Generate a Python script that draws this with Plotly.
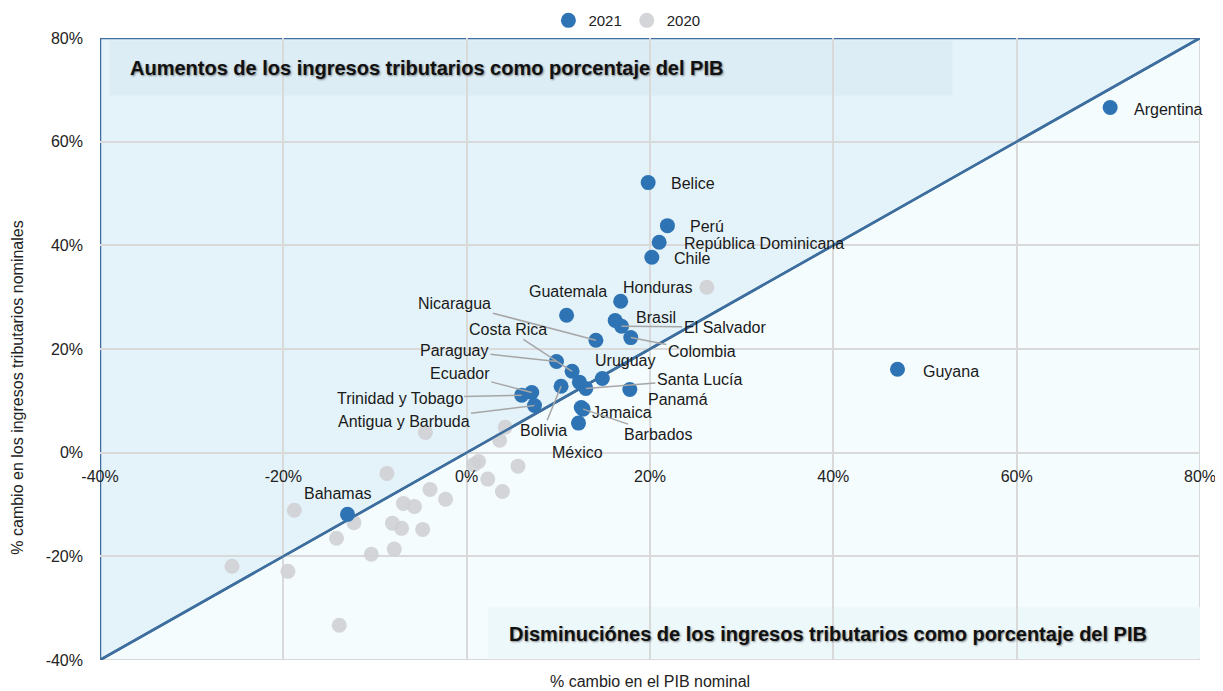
import plotly.graph_objects as go

# ---------------- data ----------------
countries_2021 = ["Argentina", "Belice", "Perú", "República Dominicana", "Chile", "Honduras",
                  "Guatemala", "Brasil", "El Salvador", "Colombia", "Nicaragua", "Paraguay",
                  "Costa Rica", "Uruguay", "", "Santa Lucía", "Bolivia", "Panamá", "Ecuador",
                  "Trinidad y Tobago", "Antigua y Barbuda", "Jamaica", "Barbados", "México",
                  "Guyana", "Bahamas"]
gdp_2021 = [70.2, 19.8, 21.9, 21.0, 20.2, 16.8, 10.9, 16.2, 16.9, 17.9, 14.1, 9.8,
            11.5, 14.8, 12.3, 13.0, 10.3, 17.8, 7.1, 6.0, 7.4, 12.5, 12.7, 12.2,
            47.0, -13.0]
tax_2021 = [66.6, 52.1, 43.8, 40.6, 37.7, 29.2, 26.5, 25.5, 24.4, 22.2, 21.7, 17.6,
            15.7, 14.3, 13.6, 12.4, 12.8, 12.2, 11.6, 11.1, 9.1, 8.7, 8.4, 5.7,
            16.1, -11.9]

gdp_2020 = [26.2, -4.5, 4.2, 3.6, 1.3, 0.8, 5.6, -8.7, 2.3, 3.9, -4.0, -2.3, -6.9,
            -5.7, -18.8, -12.3, -8.1, -7.1, -4.8, -14.2, -10.4, -7.9, -25.6, -19.5, -13.9]
tax_2020 = [31.9, 3.9, 4.9, 2.4, -1.7, -2.3, -2.6, -4.0, -5.1, -7.5, -7.1, -9.0, -9.8,
            -10.4, -11.1, -13.5, -13.6, -14.6, -14.8, -16.5, -19.6, -18.6, -21.9, -22.9, -33.3]

tick_vals = [-40, -20, 0, 20, 40, 60, 80]
tick_text = ["-40%", "-20%", "0%", "20%", "40%", "60%", "80%"]

# label placement (pixel offsets of label centre from the point, leader line flag)
label_style = {
    "Argentina": (58, 2, False), "Belice": (45, 1, False), "Perú": (40, 1, False),
    "República Dominicana": (105, 1, False), "Chile": (41, 1, False),
    "Honduras": (37, -14, False), "Guatemala": (1, -24, False), "Brasil": (41, -3, False),
    "El Salvador": (103, 1, True), "Colombia": (71, 14, True), "Nicaragua": (-141, -37, True),
    "Costa Rica": (-64, -42, True), "Paraguay": (-102, -11, True), "Uruguay": (23, -18, False),
    "Santa Lucía": (114, -9, True), "Bolivia": (-18, 44, True), "Panamá": (48, 10, False),
    "Ecuador": (-72, -19, True), "Trinidad y Tobago": (-122, 3, True),
    "Antigua y Barbuda": (-131, 16, True), "Jamaica": (41, 5, False),
    "Barbados": (75, 25, True), "México": (-1, 29, False), "Guyana": (53, 2, False),
    "Bahamas": (-10, -21, False),
}

FONT = "Liberation Sans, Arial, sans-serif"
BLUE = "#2e74b5"
GRAY = "#cfd0d4"
LINE_BLUE = "#3d6e9e"

fig = go.Figure()

fig.add_trace(go.Scatter(x=gdp_2020, y=tax_2020, mode="markers", name="2020",
                         marker=dict(color=GRAY, size=15, opacity=0.9), showlegend=True))
fig.add_trace(go.Scatter(x=[-40, 80], y=[-40, 80], mode="lines", showlegend=False,
                         line=dict(color=LINE_BLUE, width=2.5), hoverinfo="skip"))
fig.add_trace(go.Scatter(x=gdp_2021, y=tax_2021, mode="markers", name="2021",
                         marker=dict(color=BLUE, size=15), text=countries_2021))

# background regions
fig.add_shape(type="path", path="M -40,-40 L 80,-40 L 80,80 Z", xref="x", yref="y",
              fillcolor="#f4fcfe", line=dict(color="#d9d9d9", width=2), layer="below")
fig.add_shape(type="path", path="M -40,-40 L -40,80 L 80,80 Z", xref="x", yref="y",
              fillcolor="#e4f3f9", line=dict(color=LINE_BLUE, width=2.5), layer="below")
fig.add_shape(type="rect", x0=-39.0, x1=53.0, y0=68.9, y1=79.5, xref="x", yref="y",
              fillcolor="#dcedf6", line=dict(width=0), layer="below")
fig.add_shape(type="rect", x0=2.3, x1=80, y0=-39.7, y1=-29.8, xref="x", yref="y",
              fillcolor="#edf8fb", line=dict(width=0), layer="below")

shadow = "1px 1px 2px rgba(0,0,0,0.45)"
fig.add_annotation(x=-37.0, y=74.3, xref="x", yref="y", xanchor="left", yanchor="middle",
                   text="<b>Aumentos de los ingresos tributarios como porcentaje del PIB</b>",
                   showarrow=False, font=dict(family=FONT, size=20, color="#111", shadow=shadow))
fig.add_annotation(x=4.4, y=-34.9, xref="x", yref="y", xanchor="left", yanchor="middle",
                   text="<b>Disminuciónes de los ingresos tributarios como porcentaje del PIB</b>",
                   showarrow=False, font=dict(family=FONT, size=20, color="#111", shadow=shadow))

# country labels
for name, gx, ty in zip(countries_2021, gdp_2021, tax_2021):
    if not name:
        continue
    dx, dy, leader = label_style[name]
    if leader:
        fig.add_annotation(x=gx, y=ty, xref="x", yref="y", text=name, showarrow=True,
                           ax=dx, ay=dy, arrowhead=0, arrowwidth=1.5, arrowcolor="#a6a6a6",
                           standoff=0, font=dict(family=FONT, size=16, color="#1a1a1a"))
    else:
        fig.add_annotation(x=gx, y=ty, xref="x", yref="y", text=name, showarrow=False,
                           xshift=dx, yshift=-dy, font=dict(family=FONT, size=16, color="#1a1a1a"))

# axis titles
fig.add_annotation(x=0.5, y=-0.034, xref="paper", yref="paper", text="% cambio en el PIB nominal",
                   showarrow=False, yanchor="middle", font=dict(family=FONT, size=16, color="#222"))
fig.add_annotation(x=-0.075, y=0.437, xref="paper", yref="paper", textangle=-90,
                   text="% cambio en los ingresos tributarios nominales", showarrow=False,
                   xanchor="center", yanchor="middle", font=dict(family=FONT, size=16, color="#222"))

# page body adds an 8px offset, so the figure is sized 8px smaller in each direction
fig.update_layout(
    width=1215, height=683,
    margin=dict(l=92, r=23, t=30, b=31, autoexpand=False),
    paper_bgcolor="white", plot_bgcolor="rgba(0,0,0,0)",
    font=dict(family=FONT, size=16, color="#222"),
    legend=dict(orientation="h", x=0.479, y=1.028, xanchor="center", yanchor="middle",
                font=dict(size=15), itemwidth=30, traceorder="reversed", bgcolor="rgba(0,0,0,0)"),
    xaxis=dict(range=[-40, 80], tickvals=tick_vals, ticktext=tick_text, showgrid=True,
               gridcolor="#d9d9d9", gridwidth=1.5, zeroline=False, showline=False,
               anchor="free", position=1/3, ticks="", ticklabelstandoff=12),
    yaxis=dict(range=[-40, 80], tickvals=tick_vals, ticktext=tick_text, showgrid=True,
               gridcolor="#d9d9d9", gridwidth=1.5, zeroline=False, showline=False,
               ticks="", ticklabelstandoff=16),
)

fig.write_html("out.html")
